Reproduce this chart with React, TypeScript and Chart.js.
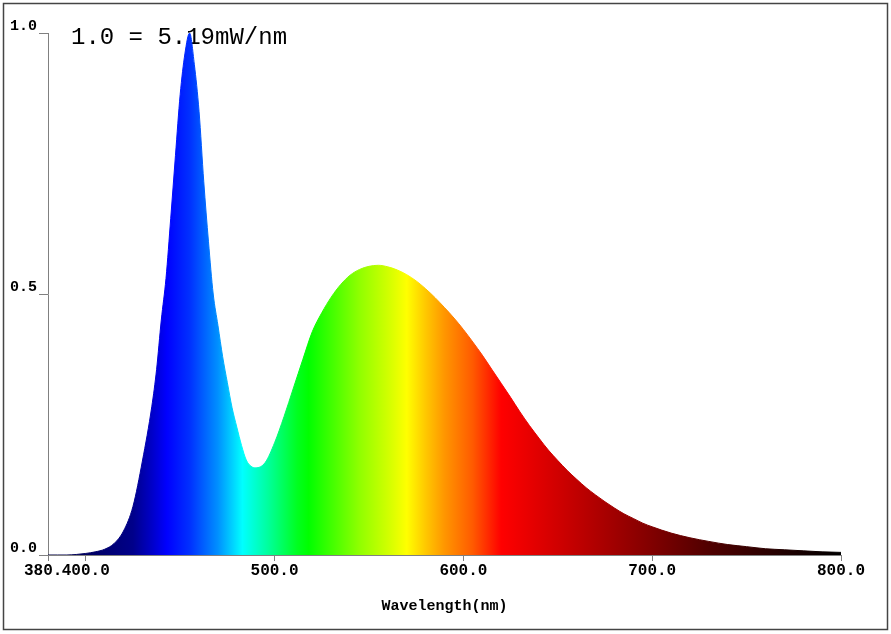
import React, { useEffect, useRef } from 'react';
import { Chart, registerables } from 'chart.js';

Chart.register(...registerables);

// wavelength (nm) and relative intensity
const wavelengths = [
  380, 385, 390, 395, 400, 405, 410, 415, 420, 425, 430, 435, 437.5, 440, 442.5, 445, 447.5, 450,
  452.5, 455, 457.5, 460, 462.5, 465, 467.5, 470, 472.5, 475, 477.5, 480, 482.5, 485, 487.5, 490,
  495, 500, 505, 510, 515, 520, 525, 530, 535, 540, 545, 550, 555, 560, 565, 570, 575, 580, 585,
  590, 595, 600, 605, 610, 615, 620, 625, 630, 635, 640, 645, 650, 655, 660, 665, 670, 675, 680,
  685, 690, 695, 700, 710, 720, 730, 740, 750, 760, 770, 780, 790, 800,
];
const intensity = [
  0.0, 0.0, 0.0, 0.001, 0.003, 0.006, 0.011, 0.022, 0.046, 0.093, 0.18, 0.285, 0.355, 0.45, 0.53,
  0.645, 0.765, 0.882, 0.96, 1.0, 0.94, 0.85, 0.715, 0.6, 0.5, 0.44, 0.38, 0.33, 0.282, 0.245,
  0.21, 0.182, 0.17, 0.167, 0.177, 0.215, 0.265, 0.32, 0.375, 0.428, 0.464, 0.494, 0.518, 0.536,
  0.547, 0.553, 0.555, 0.552, 0.546, 0.537, 0.525, 0.51, 0.493, 0.474, 0.454, 0.432, 0.408,
  0.383, 0.356, 0.329, 0.302, 0.274, 0.248, 0.224, 0.201, 0.181, 0.162, 0.145, 0.129, 0.115,
  0.102, 0.09, 0.079, 0.07, 0.061, 0.054, 0.042, 0.033, 0.026, 0.02, 0.016, 0.012, 0.01, 0.008,
  0.006, 0.005,
];
const xTicks = [380, 400, 500, 600, 700, 800];
const yTicks = [0, 0.5, 1.0];

const scaleNote = '1.0 = 5.19mW/nm';
const xTitle = 'Wavelength(nm)';

// colour of the fill at each wavelength
const spectrumColors: [number, string][] = [
  [380, '#000040'], [410, '#000070'], [425, '#00008a'], [435, '#0000c8'], [443, '#0000ff'],
  [455, '#0030ff'], [470, '#0090ff'], [483, '#00ffff'], [497, '#00ff99'], [512, '#00ff20'],
  [518, '#00ff00'], [530, '#40ff00'], [545, '#90ff00'], [560, '#d0ff00'], [570, '#ffff00'],
  [580, '#ffc800'], [590, '#ff9600'], [605, '#ff5a00'], [620, '#ff0000'], [650, '#d00000'],
  [690, '#900000'], [730, '#500000'], [770, '#200000'], [800, '#000000'],
];

const monoFont = '"Liberation Mono", "Courier New", monospace';

const spectrumGradient = (context: any) => {
  const chart = context.chart;
  const { ctx, chartArea, scales } = chart;
  if (!chartArea) return '#0000ff';
  const x0 = scales.x.getPixelForValue(380);
  const x1 = scales.x.getPixelForValue(800);
  const g = ctx.createLinearGradient(x0, 0, x1, 0);
  spectrumColors.forEach(([wl, c]) => g.addColorStop((wl - 380) / 420, c));
  return g;
};

const SpectrumChart: React.FC = () => {
  const chartRef = useRef<HTMLCanvasElement>(null);
  const chartInstanceRef = useRef<Chart | null>(null);

  useEffect(() => {
    document.body.style.margin = '0';
    if (!chartRef.current) return;
    const ctx = chartRef.current.getContext('2d');
    if (!ctx) return;
    if (chartInstanceRef.current) chartInstanceRef.current.destroy();

    const noteAndFrame = {
      id: 'noteAndFrame',
      beforeDatasetsDraw(chart: any) {
        const c = chart.ctx;
        c.save();
        c.font = `24px ${monoFont}`;
        c.fillStyle = '#000';
        c.textBaseline = 'alphabetic';
        c.textAlign = 'left';
        c.fillText(scaleNote, 71, 44);
        c.restore();
      },
      afterDraw(chart: any) {
        const c = chart.ctx;
        c.save();
        c.strokeStyle = '#444';
        c.lineWidth = 1.5;
        c.strokeRect(3.5, 3.5, 884, 626);
        c.restore();
      },
    };

    chartInstanceRef.current = new Chart(ctx, {
      type: 'line',
      data: {
        datasets: [
          {
            label: 'Spectrum',
            data: wavelengths.map((w, i) => ({ x: w, y: intensity[i] })),
            backgroundColor: spectrumGradient,
            borderColor: spectrumGradient,
            borderWidth: 1,
            fill: 'origin',
            pointRadius: 0,
            cubicInterpolationMode: 'monotone',
          },
        ],
      },
      options: {
        responsive: false,
        animation: false,
        devicePixelRatio: 1,
        layout: { padding: { top: 33, right: 50, left: 0, bottom: 0 } },
        plugins: {
          legend: { display: false },
          tooltip: { enabled: false },
        },
        scales: {
          x: {
            type: 'linear',
            min: 380,
            max: 800,
            afterBuildTicks: (scale: any) => {
              scale.ticks = xTicks.map((v) => ({ value: v }));
            },
            afterFit: (scale: any) => {
              scale.height = 79;
            },
            grid: { display: true, drawOnChartArea: false, drawTicks: true, tickLength: 8, color: '#808080' },
            border: { display: true, color: '#808080' },
            ticks: {
              autoSkip: false,
              maxRotation: 0,
              minRotation: 0,
              padding: -2,
              color: '#000',
              font: { family: monoFont, size: 16, weight: 'bold' },
              showLabelBackdrop: true,
              backdropColor: '#ffffff',
              backdropPadding: 0,
              callback: (v: any) => Number(v).toFixed(1),
            },
            title: {
              display: true,
              text: xTitle,
              color: '#000',
              font: { family: monoFont, size: 15, weight: 'bold' },
              padding: { top: 0, bottom: 19 },
            },
          },
          y: {
            min: 0,
            max: 1,
            afterBuildTicks: (scale: any) => {
              scale.ticks = yTicks.map((v) => ({ value: v }));
            },
            afterFit: (scale: any) => {
              scale.width = 48;
            },
            grid: { display: true, drawOnChartArea: false, drawTicks: true, tickLength: 9, color: '#808080' },
            border: { display: true, color: '#808080' },
            ticks: {
              padding: 2,
              labelOffset: -7,
              color: '#000',
              font: { family: monoFont, size: 15, weight: 'bold' },
              callback: (v: any) => Number(v).toFixed(1),
            },
          },
        },
      },
      plugins: [noteAndFrame],
    } as any);

    return () => {
      if (chartInstanceRef.current) {
        chartInstanceRef.current.destroy();
        chartInstanceRef.current = null;
      }
    };
  }, []);

  return <canvas ref={chartRef} width={891} height={634} style={{ display: 'block' }}></canvas>;
};

export default function App() {
  return <SpectrumChart />;
}
